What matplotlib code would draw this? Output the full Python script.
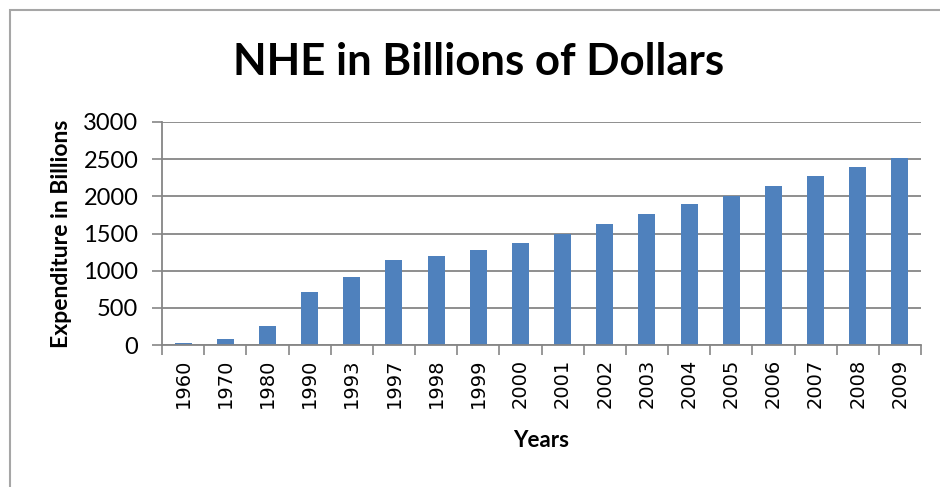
"""
NHE in Billions of Dollars - bar chart recreated in matplotlib.
"""

import matplotlib
matplotlib.use("Agg")
import matplotlib.pyplot as plt
from matplotlib.patches import Rectangle

# data
YEARS = ["1960", "1970", "1980", "1990", "1993", "1997", "1998", "1999", "2000",
         "2001", "2002", "2003", "2004", "2005", "2006", "2007", "2008", "2009"]
NHE = [27, 75, 254, 714, 912, 1140, 1198, 1280, 1370,
       1492, 1632, 1768, 1900, 2005, 2144, 2280, 2392, 2514]
Y_TICKS = [0, 500, 1000, 1500, 2000, 2500, 3000]

BAR_COLOR = "#4F81BD"
LINE_GRAY = "#868686"


def main() -> None:
    fig = plt.figure(figsize=(9.4, 4.87), dpi=100)
    ax = fig.add_axes([162 / 940, 1 - 345 / 487, 759 / 940, 223 / 487])

    x = list(range(len(YEARS)))
    ax.bar(x, NHE, width=0.4, color=BAR_COLOR, zorder=3)

    ax.set_xlim(-0.5, len(YEARS) - 0.5)
    ax.set_ylim(0, 3000)
    ax.set_yticks(Y_TICKS)
    ax.set_yticklabels([str(v) for v in Y_TICKS], family="Lato", fontsize=17)
    ax.grid(axis="y", color=LINE_GRAY, linewidth=1.3, zorder=0)

    # category labels at centres, tick marks on category edges
    ax.set_xticks(x)
    ax.set_xticklabels(YEARS, rotation=90, family="DejaVu Sans", fontsize=14)
    ax.set_xticks([i - 0.5 for i in range(len(YEARS) + 1)], minor=True)
    ax.tick_params(axis="x", which="major", length=0, pad=10)
    ax.tick_params(axis="x", which="minor", length=7, width=1.2, color=LINE_GRAY)
    ax.tick_params(axis="y", length=7, width=1.2, color=LINE_GRAY, pad=10)

    for side in ("top", "right"):
        ax.spines[side].set_visible(False)
    for side in ("left", "bottom"):
        ax.spines[side].set_color(LINE_GRAY)
        ax.spines[side].set_linewidth(1.3)
        ax.spines[side].set_zorder(4)

    ax.set_xlabel("Years", family="Lato", fontweight="bold", fontsize=16)
    ax.xaxis.set_label_coords(0.5, (345 - 430) / 223)
    ax.set_ylabel("Expenditure in Billions", family="Lato", fontweight="bold",
                  fontsize=16.5)
    ax.yaxis.set_label_coords((72 - 162) / 759, 0.5)

    fig.text(479 / 940, 1 - 62 / 487, "NHE in Billions of Dollars",
             family="Lato", fontweight="bold", fontsize=31.5,
             ha="center", va="center")

    # chart-area frame, cut off at the right and bottom like the reference
    fig.patches.append(Rectangle((10 / 940, -0.1), 1.2, 1.1 - 10 / 487,
                                 transform=fig.transFigure, fill=False,
                                 edgecolor="#A6A6A6", linewidth=1.5))

    fig.savefig("out.png", dpi=100)
    plt.close(fig)


if __name__ == "__main__":
    main()
